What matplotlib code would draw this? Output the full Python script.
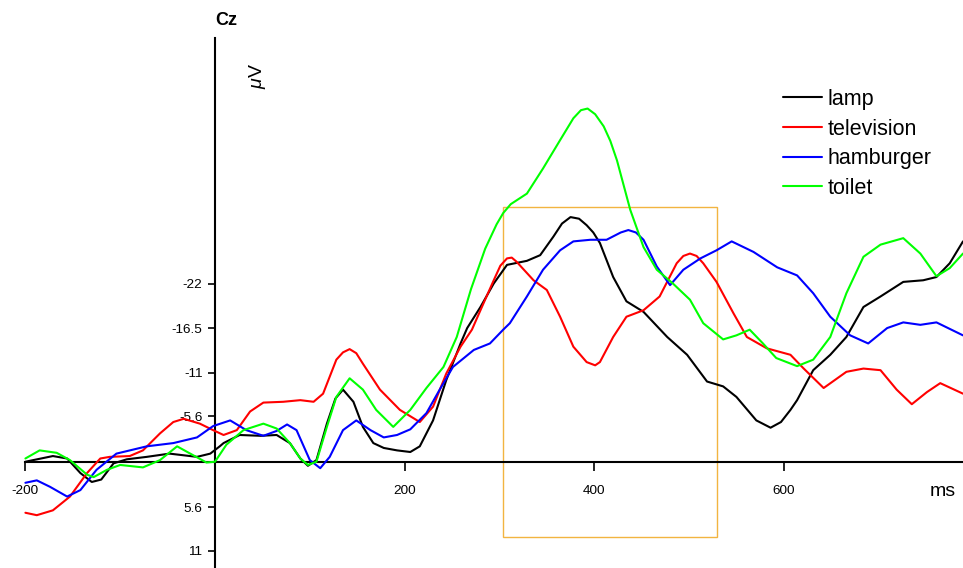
import matplotlib
matplotlib.use('Agg')
import matplotlib.pyplot as plt
from matplotlib.patches import Rectangle

plt.rcParams['font.family'] = 'Liberation Sans'
plt.rcParams['mathtext.fontset'] = 'custom'
plt.rcParams['mathtext.rm'] = 'Liberation Sans'
plt.rcParams['mathtext.it'] = 'Liberation Sans:italic'

# grand average waveforms at Cz (ms, microvolts; negative plotted up)
lamp_t = [-200, -171, -156, -142, -130, -120, -107, -93, -72, -48, -19, -5, 5, 9, 26,
          48, 65, 79, 90, 98, 107, 118, 127, 135, 146, 156, 167, 178, 192, 206,
          216, 230, 244, 259, 266, 280, 294, 308, 329, 343, 357, 366, 375, 384, 392,
          399, 406, 420, 434, 452, 477, 498, 519, 536, 550, 571, 586, 597, 607, 614,
          631, 649, 666, 684, 702, 726, 747, 761, 775, 789]
lamp_v = [0.0, -0.7, -0.4, 1.4, 2.5, 2.2, 0.2, -0.3, -0.6, -1.0, -0.6, -1.0, -1.9, -2.3, -3.3,
          -3.2, -3.3, -2.3, -0.4, 0.5, -0.2, -4.7, -7.8, -8.9, -7.4, -4.3, -2.3, -1.7, -1.4, -1.2,
          -1.9, -5.1, -10.1, -14.6, -16.5, -19.1, -22.0, -24.3, -24.8, -25.5, -27.8, -29.4, -30.2, -30.0, -29.2,
          -28.3, -27.0, -22.8, -19.8, -18.5, -15.4, -13.2, -9.9, -9.3, -8.0, -5.1, -4.2, -4.9, -6.4, -7.6,
          -11.3, -13.2, -15.4, -19.1, -20.4, -22.2, -22.4, -22.8, -24.5, -27.2]

tv_t = [-200, -188, -171, -153, -135, -121, -111, -90, -76, -58, -44, -33, -16, -2, 9,
        23, 37, 51, 72, 90, 104, 114, 128, 135, 142, 149, 156, 174, 195, 216,
        230, 244, 259, 271, 280, 294, 301, 308, 313, 318, 336, 350, 364, 378, 392,
        401, 406, 420, 434, 452, 469, 487, 494, 501, 508, 515, 529, 547, 561, 582,
        607, 621, 642, 666, 684, 702, 719, 735, 751, 765, 789]
tv_v = [6.3, 6.6, 6.0, 4.3, 1.4, -0.4, -0.6, -0.7, -1.4, -3.5, -4.9, -5.3, -4.7, -3.9, -3.3,
        -3.9, -6.2, -7.3, -7.4, -7.6, -7.4, -8.4, -12.6, -13.5, -13.9, -13.4, -12.1, -8.9, -6.4, -4.9,
        -6.8, -10.9, -14.2, -16.3, -18.7, -22.4, -24.2, -25.1, -25.2, -24.7, -22.4, -21.2, -17.9, -14.2, -12.3,
        -11.9, -12.3, -15.4, -17.9, -18.7, -20.4, -24.5, -25.4, -25.7, -25.4, -24.5, -22.2, -18.3, -15.4, -14.0,
        -13.2, -11.5, -9.1, -11.1, -11.5, -11.3, -8.9, -7.1, -8.6, -9.7, -8.4]

burger_t = [-200, -188, -174, -156, -142, -125, -104, -72, -44, -19, -2, 16, 33, 51, 65,
            76, 86, 100, 111, 121, 135, 149, 164, 178, 192, 206, 223, 237, 251, 273,
            290, 304, 311, 329, 346, 364, 378, 396, 413, 428, 436, 444, 452, 466, 480,
            494, 512, 529, 545, 568, 593, 614, 631, 649, 670, 689, 709, 726, 744, 761,
            789]
burger_v = [2.6, 2.3, 3.1, 4.3, 3.5, 1.0, -1.0, -1.9, -2.3, -3.0, -4.4, -5.1, -3.9, -3.2, -3.8,
            -4.6, -3.9, -0.2, 0.8, -0.6, -3.9, -5.1, -3.9, -3.0, -3.3, -4.0, -6.0, -8.9, -11.7, -13.8,
            -14.6, -16.3, -17.1, -20.4, -23.7, -26.1, -27.2, -27.4, -27.4, -28.3, -28.6, -28.3, -27.4, -24.1, -21.8,
            -23.7, -25.1, -26.1, -27.2, -25.9, -24.0, -23.0, -20.8, -17.9, -15.6, -14.6, -16.5, -17.2, -16.9, -17.2,
            -15.6]

toilet_t = [-200, -185, -167, -153, -135, -128, -114, -100, -76, -58, -40, -23, -9, 0, 12,
            30, 51, 65, 79, 90, 98, 107, 118, 128, 142, 156, 170, 188, 206, 223,
            241, 255, 270, 285, 297, 304, 312, 329, 346, 364, 378, 386, 393, 401, 410,
            417, 424, 438, 452, 466, 483, 501, 515, 536, 550, 564, 578, 592, 614, 631,
            649, 666, 684, 702, 726, 744, 761, 775, 789]
toilet_v = [-0.4, -1.4, -1.1, -0.2, 1.6, 1.9, 1.0, 0.4, 0.7, -0.2, -1.9, -0.8, 0.1, 0.0, -2.1,
            -3.9, -4.7, -4.1, -2.3, -0.4, 0.4, 0.0, -4.3, -8.0, -10.3, -8.9, -6.4, -4.3, -6.4, -9.1,
            -11.7, -15.4, -21.3, -26.3, -29.3, -30.7, -31.8, -33.1, -36.2, -39.7, -42.4, -43.4, -43.6, -42.9, -41.4,
            -39.6, -37.2, -31.1, -26.5, -23.7, -22.0, -20.0, -17.1, -15.1, -15.6, -16.3, -14.6, -12.8, -11.8, -12.6,
            -15.4, -20.8, -25.3, -26.8, -27.6, -25.7, -22.9, -23.9, -25.7]

labels = ['lamp', 'television', 'hamburger', 'toilet']
colors = ['#000000', '#ff0000', '#0000ff', '#00ff00']

x_ticks = [-200, 200, 400, 600]
y_ticks = [-22, -16.5, -11, -5.6, 5.6, 11]
y_tick_labels = ['-22', '-16.5', '-11', '-5.6', '5.6', '11']

# analysis window
win_start, win_end = 303.5, 529
win_top, win_bottom = -31.4, 9.3

fig = plt.figure(figsize=(9.63, 5.68), dpi=100)
ax = fig.add_axes([0, 0, 1, 1])

series = [(lamp_t, lamp_v), (tv_t, tv_v), (burger_t, burger_v), (toilet_t, toilet_v)]
for (t, v), lab, col in zip(series, labels, colors):
    ax.plot(t, v, color=col, lw=1.5, label=lab, zorder=3,
            solid_joinstyle='round', solid_capstyle='round')

ax.add_patch(Rectangle((win_start, win_top), win_end - win_start, win_bottom - win_top,
                       fill=False, edgecolor='#f2b441', lw=1.0, zorder=2))

ax.set_xlim(-226.8, 789.0)
ax.set_ylim(13.12, -57.0)

# axes cross at zero
for s in ['top', 'right']:
    ax.spines[s].set_visible(False)
ax.spines['left'].set_position(('data', 0))
ax.spines['bottom'].set_position(('data', 0))
ax.spines['left'].set_bounds(13.12, -52.3)
ax.spines['bottom'].set_bounds(-200, 789)
ax.spines['left'].set_linewidth(1.5)
ax.spines['bottom'].set_linewidth(1.5)

ax.set_xticks(x_ticks)
ax.set_xticklabels([str(x) for x in x_ticks])
ax.set_yticks(y_ticks)
ax.set_yticklabels(y_tick_labels)
ax.tick_params(axis='x', direction='out', length=6.5, width=1.2, pad=10, labelsize=9.7)
ax.tick_params(axis='y', direction='out', length=5, width=1.2, pad=4, labelsize=9.7)

ax.text(0, -54.5, 'Cz', fontsize=13, fontweight='bold', ha='left', va='center')
ax.text(44.8, -47.6, r'$\mu$V', fontsize=14, rotation=90, ha='center', va='center')
ax.text(768, 3.7, 'ms', fontsize=14, ha='center', va='center')

ax.legend(loc='upper left', bbox_to_anchor=(783 / 963, 1 - 89 / 568), frameon=False,
          fontsize=15.5, handlelength=1.8, handletextpad=0.25, labelspacing=0.4,
          borderpad=0, borderaxespad=0)

plt.savefig('out.png', dpi=100)
